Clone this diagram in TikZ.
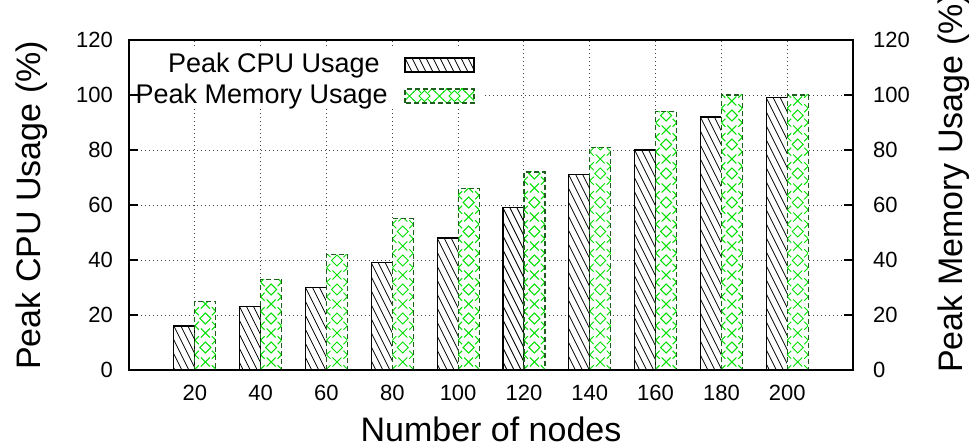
\documentclass[tikz,border=0pt]{standalone}
\usepackage{fontspec}
\setmainfont{Liberation Sans}

\definecolor{memgreen}{RGB}{0,225,0}
\definecolor{memedge}{RGB}{30,95,30}

\tikzset{
  gridline/.style={black!75, line width=0.9pt, dash pattern=on 1pt off 3pt},
  plotframe/.style={line width=1.8pt, black},
  tickmark/.style={line width=1.2pt, black},
  hatchline/.style={black, line width=0.8pt},
  cpuedge/.style={draw=black, line width=1.2pt},
  memedgeline/.style={draw=memedge, line width=1.2pt, dash pattern=on 5pt off 3pt},
  memmark/.style={memgreen, line width=1pt},
  ticklabel/.style={font=\fontsize{22}{26}\selectfont, inner sep=0pt},
  keylabel/.style={font=\fontsize{27}{32}\selectfont, inner sep=0pt},
  axislabel/.style={font=\fontsize{34}{40}\selectfont, inner sep=0pt},
}

% hatched box: #1 left, #2 bottom, #3 right, #4 top
\newcommand\hatchbox[4]{%
  \fill[white] (#1,#2) rectangle (#3,#4);
  \begin{scope}
    \clip (#1,#2) rectangle (#3,#4);
    \pgfmathsetmacro\hh{(#4-#2)/2}
    \foreach \hk in {-22,...,11}{
      \draw[hatchline] ({#1+7*\hk},#4) -- ({#1+7*\hk+\hh},#2);
    }
  \end{scope}
  \draw[cpuedge] (#1,#2) rectangle (#3,#4);
}

% box with the green cross/diamond lattice: #1 left, #2 bottom, #3 right, #4 top,
% #5 height of the lattice origin, #6 horizontal step, #7 vertical step
\newcommand\latticebox[7]{%
  \fill[white] (#1,#2) rectangle (#3,#4);
  \begin{scope}
    \clip (#1,#2) rectangle (#3,#4);
    \pgfmathsetmacro\lcx{(#1+#3)/2}
    \foreach \la in {-6,...,6}{
      \foreach \lb in {-2,...,40}{
        \pgfmathtruncatemacro\lsum{mod(\la+\lb+80,2)}
        \ifnum\lsum=0
          \pgfmathsetmacro\lpx{\lcx+#6*\la}
          \pgfmathsetmacro\lpy{#5+#7*\lb}
          \pgfmathtruncatemacro\lrow{mod(\lb+80,2)}
          \ifnum\lrow=0
            \pgfmathtruncatemacro\lkind{mod((\la+\lb)/2+80,2)}
            \ifnum\lkind=0
              \draw[memmark] (\lpx-4.5,\lpy-4.5) -- (\lpx+4.5,\lpy+4.5)
                             (\lpx-4.5,\lpy+4.5) -- (\lpx+4.5,\lpy-4.5);
            \else
              \draw[memmark] (\lpx-5.5,\lpy) -- (\lpx,\lpy+5.5) -- (\lpx+5.5,\lpy)
                             -- (\lpx,\lpy-5.5) -- cycle;
            \fi
          \else
            \draw[memmark] (\lpx-4,\lpy-4) -- (\lpx+4,\lpy+4)
                           (\lpx-4,\lpy+4) -- (\lpx+4,\lpy-4);
          \fi
        \fi
      }
    }
  \end{scope}
  \draw[memedgeline] (#1,#2) rectangle (#3,#4);
}

\begin{document}
\begin{tikzpicture}[x=1pt,y=1pt]
  \useasboundingbox (0,0) rectangle (976,446);

  % grid
  \foreach \v in {1,...,5}{
    \draw[gridline] (129,76+55*\v) -- (853,76+55*\v);
  }
  \foreach \i in {1,...,10}{
    \draw[gridline] (129+65.82*\i,76) -- (129+65.82*\i,406);
  }

  % opaque key area
  \fill[white] (131,338) rectangle (484,398);

  % bars: CPU (hatched) left of each category, memory (lattice) right of it
  \foreach \n/\c/\m [count=\i] in {20/16/25,40/23/33,60/30/42,80/39/55,100/48/66,
                                   120/59/72,140/71/81,160/80/94,180/92/100,200/99/100}{
    \pgfmathsetmacro\cx{129+65.82*\i}
    \pgfmathsetmacro\ctop{76+2.75*\c}
    \pgfmathsetmacro\mtop{76+2.75*\m}
    \hatchbox{\cx-21}{76}{\cx}{\ctop}
    \latticebox{\cx}{76}{\cx+21}{\mtop}{84}{10.5}{7.25}
    \node[ticklabel, anchor=base] (xl\i) at (\cx,45) {\n};
  }

  % key
  \node[keylabel, anchor=base east] (keycpu) at (380,373) {Peak CPU Usage};
  \node[keylabel, anchor=base east] (keymem) at (388,342) {Peak Memory Usage};
  \hatchbox{405}{374}{474}{388}
  \latticebox{405}{343}{474}{357}{350}{7.5}{7.25}

  % ticks and tick labels
  \foreach \v [count=\k from 0] in {0,20,40,60,80,100,120}{
    \draw[tickmark] (129,76+55*\k) -- (138,76+55*\k);
    \draw[tickmark] (853,76+55*\k) -- (844,76+55*\k);
    \node[ticklabel, anchor=east] (yl\k) at (113,76+55*\k) {\v};
    \node[ticklabel, anchor=west] (yr\k) at (873,76+55*\k) {\v};
  }

  % frame
  \draw[plotframe] (129,76) rectangle (853,406);

  % axis titles
  \node[axislabel, anchor=base, text depth=0pt] (xtitle) at (491,4) {Number of nodes};
  \node[axislabel, anchor=base west, rotate=90] (ytitle) at (40,76) {Peak CPU Usage (\%)};
  \node[axislabel, anchor=base west, rotate=90] (y2title) at (962,73) {Peak Memory Usage (\%)};
\end{tikzpicture}
\end{document}
